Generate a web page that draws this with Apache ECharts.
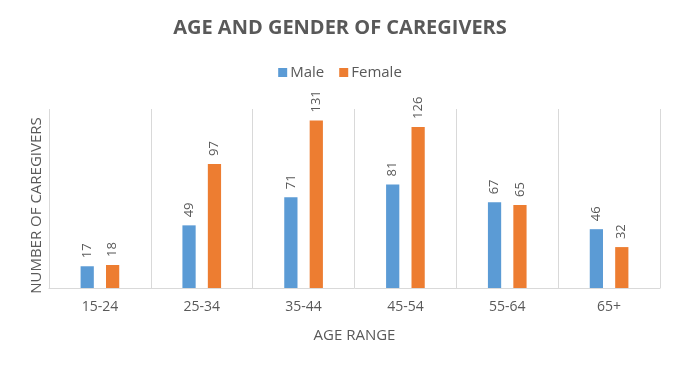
<!DOCTYPE html>
<html><head><meta charset="utf-8">
<script src="https://cdn.jsdelivr.net/npm/echarts@6/dist/echarts.min.js"></script>
<style>html,body{margin:0;padding:0;background:#fff}#c{width:680px;height:368px}</style>
</head><body><div id="c"></div>
<script>
const categories = ['15-24', '25-34', '35-44', '45-54', '55-64', '65+'];
const male = [17, 49, 71, 81, 67, 46];
const female = [18, 97, 131, 126, 65, 32];
const seriesNames = ['Male', 'Female'];
const colors = ['#5B9BD5', '#ED7D31'];
const txt = '#595959';
const font = '"Open Sans", sans-serif';

const chart = echarts.init(document.getElementById('c'), null, {renderer: 'canvas'});
const lbl = {
  show: true, position: 'top', rotate: 90, align: 'left', verticalAlign: 'middle',
  distance: 8, color: txt, fontSize: 13, fontFamily: font
};
chart.setOption({
  animation: false,
  color: colors,
  title: {
    text: 'AGE AND GENDER OF CAREGIVERS', left: 'center', top: 13,
    textStyle: {color: txt, fontSize: 20, fontWeight: 'bold', fontFamily: font}
  },
  legend: {
    data: seriesNames, top: 60, left: 'center', itemWidth: 9, itemHeight: 9, itemGap: 15,
    icon: 'rect', textStyle: {color: txt, fontSize: 15, fontFamily: font, padding: [0,0,0,-2]}
  },
  grid: {left: 49, right: 20, top: 109, bottom: 80},
  xAxis: {
    type: 'category', data: categories,
    name: 'AGE RANGE', nameLocation: 'middle', nameGap: 40,
    nameTextStyle: {color: txt, fontSize: 15, fontFamily: font},
    axisLine: {lineStyle: {color: '#D9D9D9'}},
    axisTick: {show: false},
    axisLabel: {color: txt, fontSize: 14, fontFamily: font, margin: 12},
    splitLine: {show: true, lineStyle: {color: '#D9D9D9'}}
  },
  yAxis: {
    type: 'value', min: 0, max: 140,
    name: 'NUMBER OF CAREGIVERS', nameLocation: 'middle', nameGap: 5, nameRotate: 90,
    nameTextStyle: {color: txt, fontSize: 15, fontFamily: font, padding: [0, 0, 0, -14]},
    axisLine: {show: false}, axisTick: {show: false}, axisLabel: {show: false},
    splitLine: {show: false}
  },
  series: [
    {name: seriesNames[0], type: 'bar', data: male, barWidth: '13%', barGap: '92%', label: lbl},
    {name: seriesNames[1], type: 'bar', data: female, barWidth: '13%', barGap: '92%', label: lbl}
  ]
});
</script></body></html>
